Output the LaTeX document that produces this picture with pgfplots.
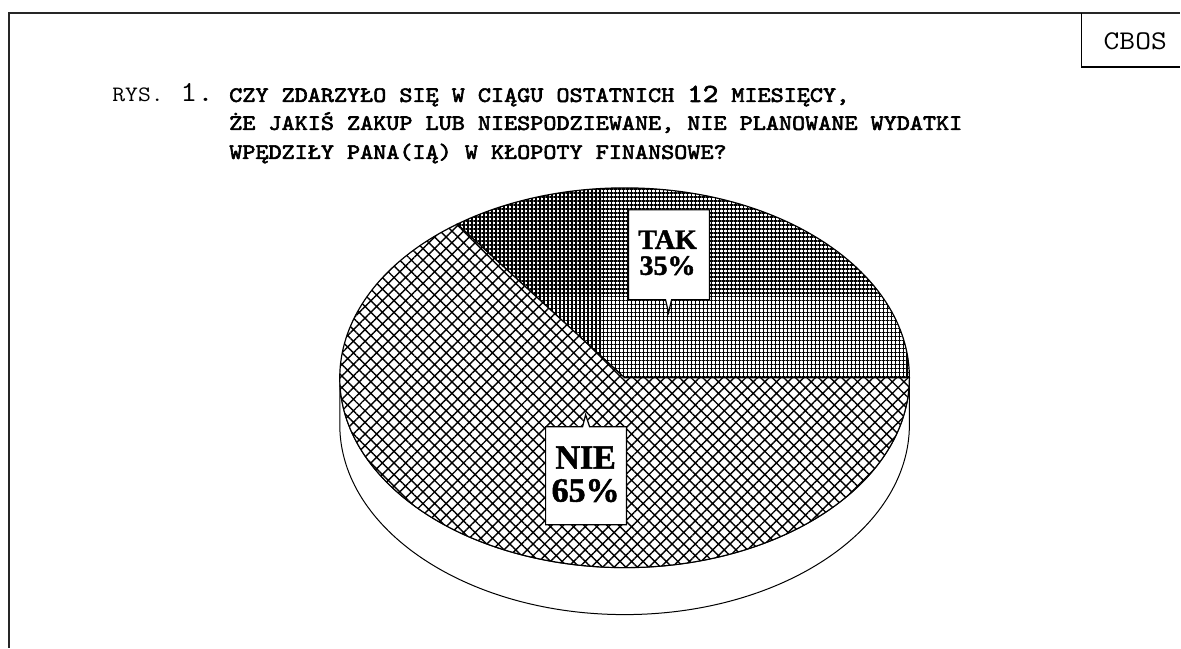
\documentclass[border=0pt]{standalone}
\usepackage{pgfplots}
\pgfplotsset{compat=1.18}
\usepackage{pgfplotstable}
\usetikzlibrary{patterns.meta}
\usepackage{fontspec}
\setmainfont{Liberation Serif}
\newfontfamily\labfont[FakeBold=1.5]{Liberation Serif Bold}
\newfontfamily\courb[FakeBold=2.5]{lmmono10-regular.otf}
\newcommand\ttl[1]{\scalebox{1.134}[1]{#1}}

\pgfplotstableread{
label value
TAK 35
NIE 65
}\piedata

\begin{document}
\begin{tikzpicture}
\pgfplotstablegetelem{0}{value}\of\piedata
\pgfmathsetmacro{\aTAK}{3.6*\pgfplotsretval}
\begin{axis}[scale only axis, width=590.5pt, height=324pt,
  xmin=0, xmax=1181, ymin=0, ymax=648, y dir=reverse,
  axis lines=none, clip=false]
\addplot[draw=none] coordinates {(0,0) (1181,648)};
% frame
\draw[line width=0.8pt, black!85] (axis cs:9,648) -- (axis cs:9,13) -- (axis cs:1181,13);
\draw[line width=0.6pt] (axis cs:1082,13) -- (axis cs:1082,67) -- (axis cs:1181,67);
\node[font=\ttfamily\fontsize{13.5}{15}\selectfont] at (axis cs:1136,41) {\ttl{CBOS}};
% title
\node[anchor=base west, inner sep=0pt, font=\ttfamily\fontsize{11}{13}\selectfont] at (axis cs:112,102) {\ttl{RYS.}};
\node[anchor=base west, inner sep=0pt, font=\ttfamily\fontsize{14.5}{16}\selectfont] at (axis cs:180,102) {\ttl{1.}};
\node[anchor=base west, inner sep=0pt, font=\courb\fontsize{11}{13}\selectfont] at (axis cs:229,102) {\ttl{CZY ZDARZYŁO SIĘ W CIĄGU OSTATNICH {\fontsize{13}{14}\selectfont 12} MIESIĘCY,}};
\node[anchor=base west, inner sep=0pt, font=\courb\fontsize{11}{13}\selectfont] at (axis cs:229,130) {\ttl{ŻE JAKIŚ ZAKUP LUB NIESPODZIEWANE, NIE PLANOWANE WYDATKI}};
\node[anchor=base west, inner sep=0pt, font=\courb\fontsize{11}{13}\selectfont] at (axis cs:229,159) {\ttl{WPĘDZIŁY PANA(IĄ) W KŁOPOTY FINANSOWE?}};
% pie side
\coordinate (C) at (axis cs:625,378);
\draw[fill=white, line width=0.5pt] ([xshift=142.5pt]C) -- ++(0,-23.5pt)
  arc[start angle=0, end angle=-180, x radius=142.5pt, y radius=95pt]
  -- ([xshift=-142.5pt]C)
  arc[start angle=180, end angle=360, x radius=142.5pt, y radius=95pt] -- cycle;
% TAK slice
\fill[white] (C) -- ([xshift=142.5pt]C) arc[start angle=0, end angle=\aTAK, x radius=142.5pt, y radius=95pt] -- cycle;
\path[pattern={Hatch[angle=0, distance=2pt, line width=0.9pt]}] (C) -- ([xshift=142.5pt]C) arc[start angle=0, end angle=\aTAK, x radius=142.5pt, y radius=95pt] -- cycle;
\draw[line width=0.6pt] (C) -- ([xshift=142.5pt]C) arc[start angle=0, end angle=\aTAK, x radius=142.5pt, y radius=95pt] -- cycle;
% NIE slice
\fill[white] (C) -- ([shift={(\aTAK:142.5pt and 95pt)}]C) arc[start angle=\aTAK, end angle=360, x radius=142.5pt, y radius=95pt] -- cycle;
\path[pattern={Hatch[angle=45, distance=4.1pt, line width=0.7pt]}] (C) -- ([shift={(\aTAK:142.5pt and 95pt)}]C) arc[start angle=\aTAK, end angle=360, x radius=142.5pt, y radius=95pt] -- cycle;
\draw[line width=0.6pt] (C) -- ([shift={(\aTAK:142.5pt and 95pt)}]C) arc[start angle=\aTAK, end angle=360, x radius=142.5pt, y radius=95pt] -- cycle;
% callouts
\draw[fill=white, line width=0.6pt] (axis cs:629,210) -- (axis cs:710,210) -- (axis cs:710,300) -- (axis cs:672,300) -- (axis cs:669,313) -- (axis cs:666,300) -- (axis cs:629,300) -- cycle;
\node[anchor=base, inner sep=0pt, font=\labfont\fontsize{14}{16}\selectfont] at (axis cs:668,249) {TAK};
\node[anchor=base, inner sep=0pt, font=\labfont\fontsize{14}{16}\selectfont] at (axis cs:668,275) {35\%};
\draw[fill=white, line width=0.6pt] (axis cs:546,427) -- (axis cs:583,427) -- (axis cs:586,415) -- (axis cs:590,427) -- (axis cs:627,427) -- (axis cs:627,525) -- (axis cs:546,525) -- cycle;
\node[anchor=base, inner sep=0pt, font=\labfont\fontsize{17}{19}\selectfont] at (axis cs:586,469) {NIE};
\node[anchor=base, inner sep=0pt, font=\labfont\fontsize{17}{19}\selectfont] at (axis cs:586,502) {65\%};
\end{axis}
\end{tikzpicture}
\end{document}
